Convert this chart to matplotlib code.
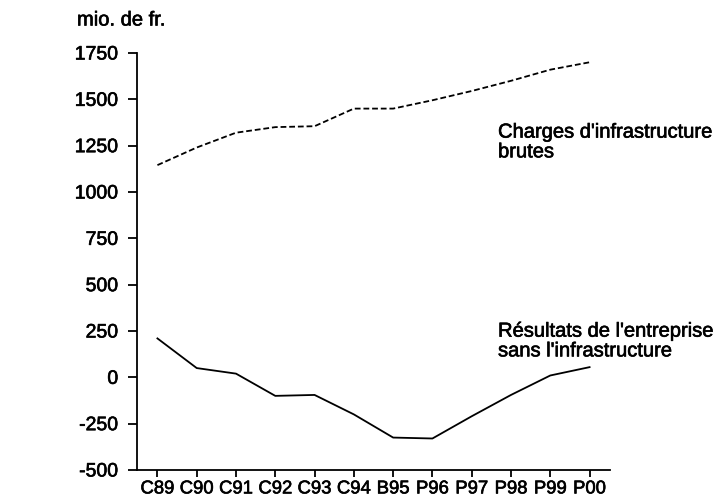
import matplotlib
matplotlib.use("Agg")
import matplotlib.pyplot as plt
import matplotlib.patheffects as pe

years = ["C89", "C90", "C91", "C92", "C93", "C94", "B95", "P96", "P97", "P98", "P99", "P00"]
charges_infra = [1145, 1240, 1320, 1350, 1355, 1450, 1450, 1495, 1545, 1600, 1660, 1700]
resultats = [210, 50, 20, -100, -95, -200, -325, -330, -210, -95, 10, 55]
yticks = [-500, -250, 0, 250, 500, 750, 1000, 1250, 1500, 1750]

plt.rcParams['font.family'] = ['Liberation Sans', 'DejaVu Sans']
bold = [pe.withStroke(linewidth=0.45, foreground='black')]

fig = plt.figure(figsize=(7.18, 5.03), dpi=100)
W, H = 718, 503
x0, x1 = 137, 610
y0, y1 = 470, 53
ax = fig.add_axes([x0 / W, 1 - y0 / H, (x1 - x0) / W, (y0 - y1) / H])

x = list(range(len(years)))
ax.plot(x, charges_infra, color='black', lw=1.3, linestyle=(0, (3.2, 1.6)))
ax.plot(x, resultats, color='black', lw=1.3)

ax.set_xlim(-0.52, 11.52)
ax.set_ylim(-500, 1750)
ax.set_xticks(x)
ax.set_xticklabels(years)
ax.set_yticks(yticks)
ax.set_yticklabels([str(v) for v in yticks])

for s in ['top', 'right']:
    ax.spines[s].set_visible(False)
for s in ['left', 'bottom']:
    ax.spines[s].set_linewidth(1.3)

ax.tick_params(axis='y', direction='out', length=6.5, width=1.3, pad=7, labelsize=14)
ax.tick_params(axis='x', direction='out', length=5, width=1.3, pad=2.5, labelsize=13.3)
for lab in ax.get_xticklabels() + ax.get_yticklabels():
    lab.set_path_effects(bold)

fig.text(77 / W, 1 - 20 / H, "mio. de fr.", fontsize=14.5, va='center', ha='left',
         path_effects=bold)

ax.text(8.67, 1270, "Charges d'infrastructure\nbrutes", fontsize=14.5,
        ha='left', va='center', linespacing=1.05, path_effects=bold)
ax.text(8.67, 196, "Résultats de l'entreprise\nsans l'infrastructure", fontsize=14.5,
        ha='left', va='center', linespacing=1.05, path_effects=bold)

fig.savefig("out.png", dpi=100)
